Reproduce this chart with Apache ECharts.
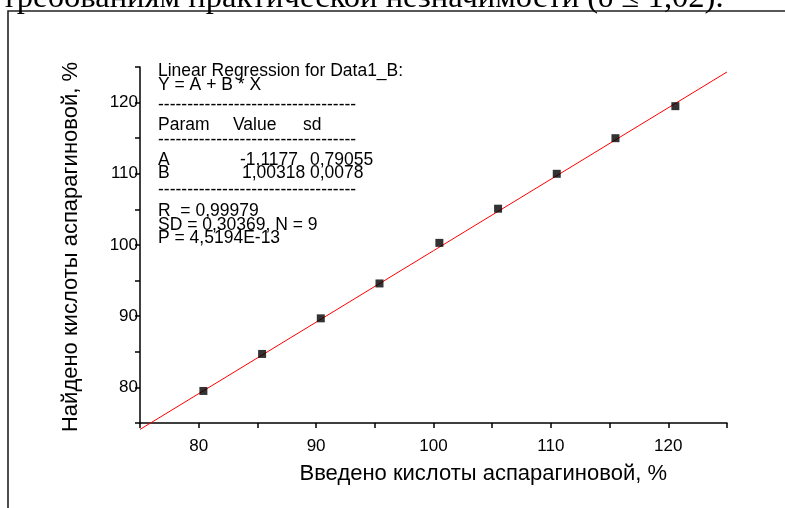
<!DOCTYPE html>
<html><head><meta charset="utf-8">
<script src="https://cdn.jsdelivr.net/npm/echarts@6/dist/echarts.min.js"></script>
<style>html,body{margin:0;padding:0;background:#fff}#c{width:785px;height:508px}</style>
</head><body><div id="c"></div>
<script>
// ---- data ----
const introText = 'требованиям практической незначимости (δ ≤ 1,02).';
const xTitle = 'Введено кислоты аспарагиновой, %';
const yTitle = 'Найдено кислоты аспарагиновой, %';
const xAdded = [80.4, 85.4, 90.4, 95.4, 100.5, 105.5, 110.5, 115.5, 120.6];
const yFound = [79.5, 84.7, 89.7, 94.6, 100.3, 105.1, 110.0, 115.0, 119.5];
const fitX = [75, 125];
const fitY = [74.1, 124.3];
const xTickLabels = [80, 90, 100, 110, 120];
const yTickLabels = [80, 90, 100, 110, 120];
const regTitle = 'Linear Regression for Data1_B:';
const regModel = 'Y = A + B * X';
const regHeader = ['Param', 'Value', 'sd'];
const regRowA = ['A', '-1,1177', '0,79055'];
const regRowB = ['B', '1,00318', '0,0078'];
const regStats = ['R  = 0,99979', 'SD = 0,30369, N = 9', 'P = 4,5194E-13'];
const dashes = '----------------------------------';

const FONT = 'Liberation Sans, Arial, sans-serif';
const BOX_FONT = '17.5px ' + FONT;
const chart = echarts.init(document.getElementById('c'));

function txt(x, y, s, opts) {
  return {
    type: 'text', x: x, y: y, silent: true,
    style: Object.assign({ text: s, font: BOX_FONT, fill: '#000', textAlign: 'left', textVerticalAlign: 'middle' }, (opts || {}))
  };
}
const col = [158, 233, 303];
const colV = [158, 240, 310];
const graphics = [
  { type: 'rect', shape: { x: 8, y: 11, width: 820, height: 540 }, style: { fill: 'none', stroke: '#222', lineWidth: 1.6 }, silent: true },
  txt(2, 15, introText, { font: '32.6px "Liberation Serif", serif', textVerticalAlign: 'bottom' }),
  txt(667, 474, xTitle, { font: '22px ' + FONT, textAlign: 'right' }),
  { type: 'text', x: 71, y: 247, rotation: Math.PI / 2, silent: true,
    style: { text: yTitle, font: '22px ' + FONT, fill: '#000', textAlign: 'center', textVerticalAlign: 'middle' } },
  txt(158, 71, regTitle),
  txt(158, 85, regModel),
  txt(158, 105, dashes),
  txt(col[0], 125, regHeader[0]), txt(col[1], 125, regHeader[1]), txt(col[2], 125, regHeader[2]),
  txt(158, 140, dashes),
  txt(colV[0], 160, regRowA[0]), txt(colV[1], 160, regRowA[1]), txt(colV[2], 160, regRowA[2]),
  txt(colV[0], 173.5, regRowB[0]), txt(colV[1] + 2, 173.5, regRowB[1]), txt(colV[2], 173.5, regRowB[2]),
  txt(158, 190, dashes),
  txt(158, 211, regStats[0]),
  txt(158, 225, regStats[1]),
  txt(158, 238, regStats[2])
];

const axisCommon = {
  type: 'value', min: 75, max: 125, interval: 5,
  axisLine: { show: true, onZero: false, lineStyle: { color: '#000', width: 1.5 } },
  axisTick: { show: true, inside: false, length: 5, lineStyle: { color: '#000', width: 1.5 } },
  splitLine: { show: false }
};

chart.setOption({
  animation: false,
  backgroundColor: '#fff',
  grid: { left: 140, right: 58, top: 67, bottom: 85 },
  xAxis: Object.assign({}, axisCommon, {
    axisLabel: { fontSize: 17, fontFamily: FONT, color: '#000', margin: 15,
      formatter: v => xTickLabels.indexOf(v) >= 0 ? String(v) : '' }
  }),
  yAxis: Object.assign({}, axisCommon, {
    axisLabel: { fontSize: 17, fontFamily: FONT, color: '#000', margin: 2,
      formatter: v => yTickLabels.indexOf(v) >= 0 ? String(v) : '' }
  }),
  series: [
    { type: 'line', data: fitX.map((x, i) => [x, fitY[i]]), symbol: 'none', clip: false,
      lineStyle: { color: '#ff0000', width: 1 }, z: 3 },
    { type: 'scatter', data: xAdded.map((x, i) => [x, yFound[i]]), symbol: 'rect', symbolSize: 8,
      itemStyle: { color: '#000' }, z: 4 }
  ],
  graphic: graphics
});
</script></body></html>
